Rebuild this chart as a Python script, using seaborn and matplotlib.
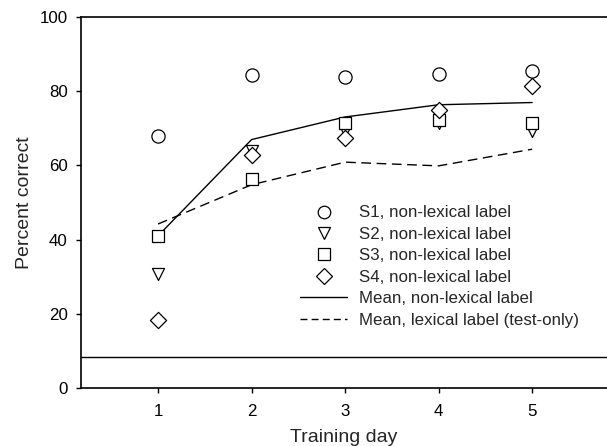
import matplotlib
matplotlib.use("Agg")
import matplotlib.pyplot as plt
from matplotlib.lines import Line2D
import numpy as np
import seaborn as sns

days = [1, 2, 3, 4, 5]
s1 = [68.0, 84.3, 83.9, 84.6, 85.5]
s2 = [30.7, 64.0, 69.2, 71.6, 69.2]
s3 = [41.0, 56.4, 71.6, 72.4, 71.4]
s4 = [18.3, 62.7, 67.4, 75.1, 81.4]
mean_nonlex = [41.0, 67.0, 73.1, 76.4, 77.0]
mean_lex = [44.2, 54.8, 60.9, 59.9, 64.4]
chance = 8.3

labels = ["S1, non-lexical label", "S2, non-lexical label",
          "S3, non-lexical label", "S4, non-lexical label"]
markers = ["o", "v", "s", "D"]
sizes = [90, 75, 75, 68]
dash = (0, (7, 4))

sns.set_style("ticks")
plt.rcParams["font.family"] = ["Liberation Sans", "DejaVu Sans"]

fig = plt.figure(figsize=(6.07, 4.46), dpi=100)
ax = fig.add_axes([0.1334, 0.1307, 0.8666, 0.8304])

ax.axhline(chance, color="black", lw=1)
sns.lineplot(x=days, y=mean_nonlex, color="black", lw=1, ax=ax)
sns.lineplot(x=days, y=mean_lex, color="black", lw=1, ax=ax, linestyle=dash)

handles = []
for vals, lab, m, s in zip([s1, s2, s3, s4], labels, markers, sizes):
    sns.scatterplot(x=days, y=vals, marker=m, s=s, facecolor="white",
                    edgecolor="black", linewidth=0.9, ax=ax, zorder=3)
    handles.append(Line2D([], [], marker=m, linestyle="none", markerfacecolor="white",
                          markeredgecolor="black", markersize=np.sqrt(s) * 0.95,
                          markeredgewidth=0.9, label=lab))
handles.append(Line2D([], [], color="black", lw=1, label="Mean, non-lexical label"))
handles.append(Line2D([], [], color="black", lw=1, linestyle=(0, (5, 3)),
                      label="Mean, lexical label (test-only)"))

ax.legend(handles=handles, loc="upper left", bbox_to_anchor=(0.416, 0.492),
          frameon=False, fontsize=12.2, handlelength=2.8, handletextpad=0.7,
          labelspacing=0.38, borderaxespad=0, borderpad=0)

ax.set_xlim(0.176, 5.8)
ax.set_ylim(0, 100)
ax.set_xticks(days)
ax.set_yticks([0, 20, 40, 60, 80, 100])
ax.set_xlabel("Training day", fontsize=14, labelpad=7)
ax.set_ylabel("Percent correct", fontsize=14, labelpad=5)
ax.tick_params(direction="out", length=3.6, width=1, labelsize=12.2, colors="black")
ax.tick_params(axis="x", pad=8)
ax.tick_params(axis="y", pad=6)
for sp in ["left", "bottom", "top"]:
    ax.spines[sp].set_linewidth(1.2)
    ax.spines[sp].set_color("black")
ax.spines["right"].set_visible(False)

fig.savefig("out.png", dpi=100)
